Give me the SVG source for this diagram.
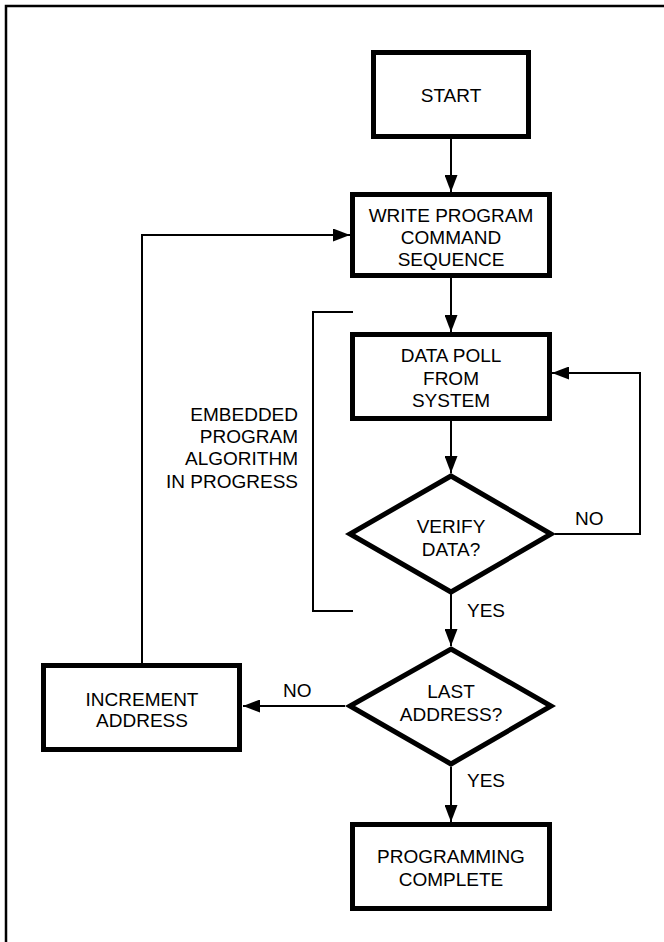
<svg xmlns="http://www.w3.org/2000/svg" width="664" height="942" viewBox="0 0 664 942">
<style>
.box{fill:#fff;stroke:#000;stroke-width:5;stroke-linejoin:miter}
.ln{fill:none;stroke:#000;stroke-width:2}
.frame{fill:none;stroke:#000;stroke-width:2.5}
text{font-family:"Liberation Sans",Arial,sans-serif;font-size:19px;fill:#000}
.c{text-anchor:middle}
.r{text-anchor:end}
</style>
<defs>
<marker id="ah" markerUnits="userSpaceOnUse" markerWidth="17" markerHeight="13" refX="17" refY="6.5" orient="auto">
<path d="M0,0 L17,6.5 L0,13 z" fill="#000"/>
</marker>
</defs>
<rect width="664" height="942" fill="#fff"/>
<path class="frame" d="M6,942 V6 H664"/>
<g id="connectors">
<line class="ln" x1="451" y1="139" x2="451" y2="192" marker-end="url(#ah)"/>
<line class="ln" x1="451" y1="278" x2="451" y2="332" marker-end="url(#ah)"/>
<line class="ln" x1="451" y1="421" x2="451" y2="473" marker-end="url(#ah)"/>
<line class="ln" x1="451" y1="594" x2="451" y2="646" marker-end="url(#ah)"/>
<line class="ln" x1="451" y1="767" x2="451" y2="822" marker-end="url(#ah)"/>
<path class="ln" d="M555,534 H640 V373 H552" marker-end="url(#ah)"/>
<line class="ln" x1="345" y1="706" x2="243" y2="706" marker-end="url(#ah)"/>
<path class="ln" d="M142,663 V235 H350" marker-end="url(#ah)"/>
<text x="575" y="525">NO</text>
<text x="467" y="617">YES</text>
<text x="467" y="787">YES</text>
<text x="283" y="697">NO</text>
</g>
<g id="bracket">
<path class="ln" d="M353,312 H313 V611 H353"/>
<text class="r" x="298" y="421">EMBEDDED</text>
<text class="r" x="298" y="443">PROGRAM</text>
<text class="r" x="298" y="465">ALGORITHM</text>
<text class="r" x="298" y="488">IN PROGRESS</text>
</g>
<g id="start">
<rect class="box" x="373.5" y="52.5" width="155" height="84"/>
<text class="c" x="451" y="102">START</text>
</g>
<g id="write">
<rect class="box" x="352.5" y="194.5" width="197" height="81"/>
<text class="c" x="451" y="222">WRITE PROGRAM</text>
<text class="c" x="451" y="244">COMMAND</text>
<text class="c" x="451" y="266">SEQUENCE</text>
</g>
<g id="datapoll">
<rect class="box" x="352.5" y="334.5" width="197" height="84"/>
<text class="c" x="451" y="362">DATA POLL</text>
<text class="c" x="451" y="385">FROM</text>
<text class="c" x="451" y="407">SYSTEM</text>
</g>
<g id="verify">
<path class="box" d="M451,476 L551,534 L451,592 L350,534 Z"/>
<text class="c" x="451" y="533">VERIFY</text>
<text class="c" x="451" y="556">DATA?</text>
</g>
<g id="last">
<path class="box" d="M451,649 L551,706 L451,764 L350,706 Z"/>
<text class="c" x="451" y="698">LAST</text>
<text class="c" x="451" y="721">ADDRESS?</text>
</g>
<g id="increment">
<rect class="box" x="43.5" y="665.5" width="196" height="84"/>
<text class="c" x="142" y="706">INCREMENT</text>
<text class="c" x="142" y="727">ADDRESS</text>
</g>
<g id="complete">
<rect class="box" x="352.5" y="824.5" width="197" height="84"/>
<text class="c" x="451" y="863">PROGRAMMING</text>
<text class="c" x="451" y="886">COMPLETE</text>
</g>
</svg>
